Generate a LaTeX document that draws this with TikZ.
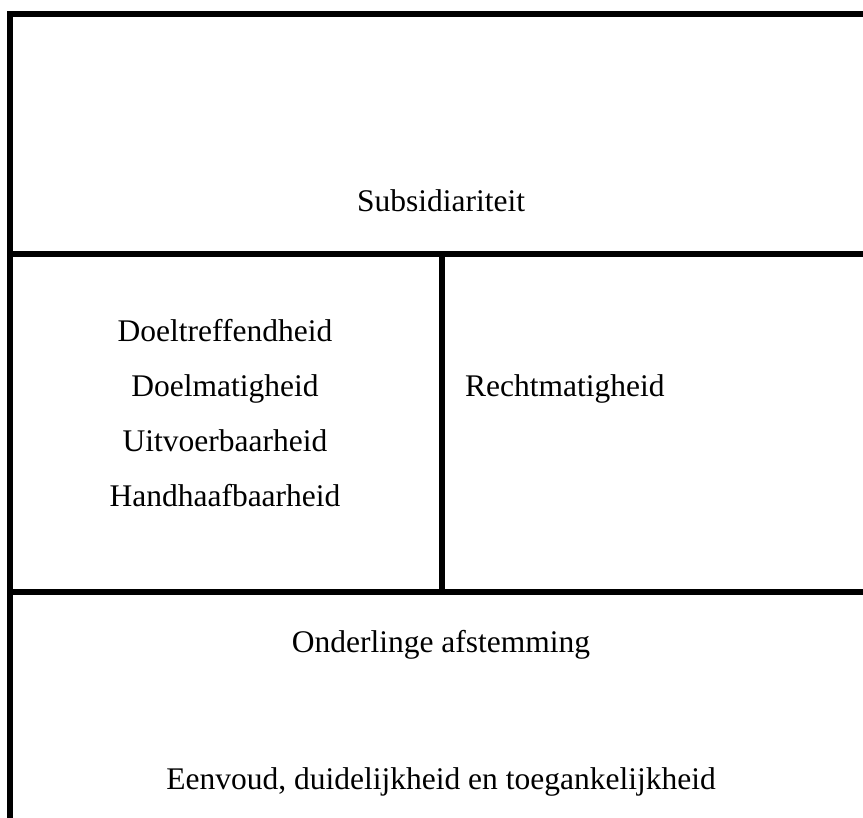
\documentclass[tikz,border=0pt]{standalone}
\usepackage{fontspec}
\setmainfont{Liberation Serif}
\usepackage{tikz}
\usetikzlibrary{positioning}

\begin{document}
\begin{tikzpicture}[
  x=1pt, y=-1pt,
  rule/.style={line width=6pt, line cap=butt, line join=miter},
  lbl/.style={inner sep=0pt, anchor=base, font=\fontsize{31.5}{36}\selectfont}
]
\useasboundingbox (0,0) rectangle (863,818);

% grid lines
\coordinate (tl) at (10,14);
\coordinate (tr) at (863,14);
\coordinate (bl) at (10,818);
\coordinate (ml) at (10,254);
\coordinate (mr) at (863,254);
\coordinate (ll) at (10,592);
\coordinate (lr) at (863,592);
\coordinate (dt) at (442,254);
\coordinate (db) at (442,592);

\draw[rule] (bl) -- (tl) -- (tr);
\draw[rule] (ml) -- (mr);
\draw[rule] (ll) -- (lr);
\draw[rule] (dt) -- (db);

% labels
\node[lbl] (subsid) at (441,212) {Subsidiariteit};
\node[lbl] (doeltr) at (225,342) {Doeltreffendheid};
\node[lbl] (doelm) at (225,397) {Doelmatigheid};
\node[lbl] (uitv) at (225,452) {Uitvoerbaarheid};
\node[lbl] (handh) at (225,507) {Handhaafbaarheid};
\node[lbl, anchor=base west] (recht) at (465,397) {Rechtmatigheid};
\node[lbl] (onderl) at (441,652) {Onderlinge afstemming};
\node[lbl] (eenv) at (441,789) {Eenvoud, duidelijkheid en toegankelijkheid};
\end{tikzpicture}
\end{document}
